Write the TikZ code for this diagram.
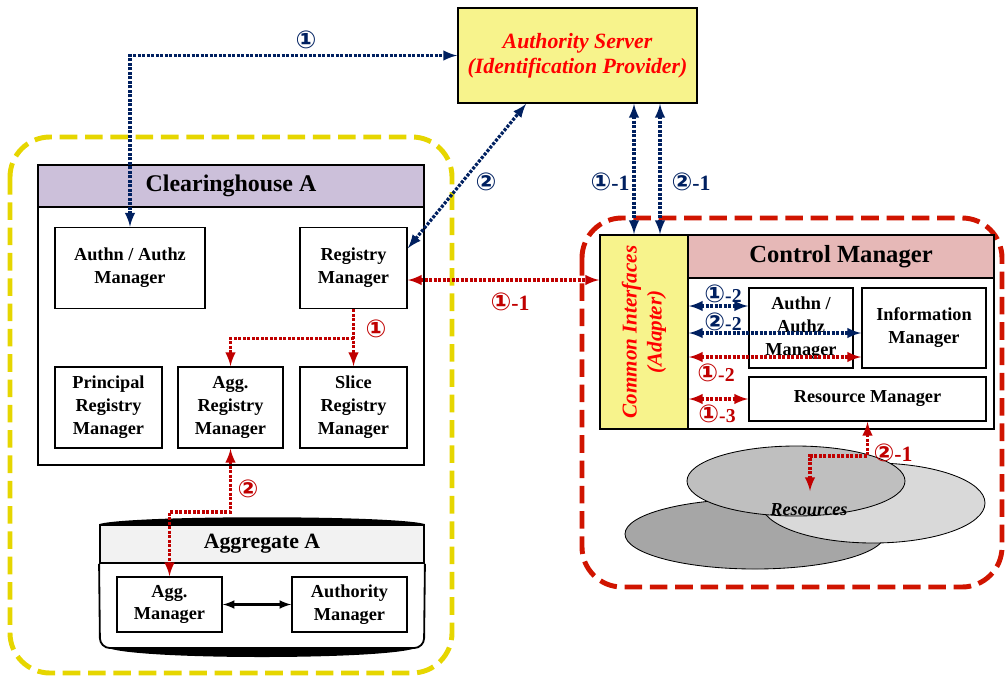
\documentclass[tikz,border=0pt]{standalone}
\usepackage{fontspec}
\setmainfont{Liberation Serif}
\newfontfamily\circfont{DejaVu Sans}
\usetikzlibrary{shapes, arrows, positioning, calc}

\definecolor{navyblue}{RGB}{0,32,96}
\definecolor{darkred}{RGB}{192,0,0}
\definecolor{zoneyellow}{RGB}{230,214,0}
\definecolor{zonered}{RGB}{208,20,0}
\definecolor{serveryellow}{RGB}{247,243,140}
\definecolor{chpurple}{RGB}{204,192,218}
\definecolor{cmpink}{RGB}{230,184,183}
\definecolor{agggray}{RGB}{242,242,242}

\newcommand{\cnum}[1]{{\circfont\fontsize{17.5}{18}\selectfont #1}}

\tikzset{
	box/.style={draw, line width=1.3pt, fill=white, align=center, inner sep=0pt,
		font=\fontsize{13}{16.3}\selectfont\bfseries},
	wh/.style 2 args={minimum width=#1*0.025cm, minimum height=#2*0.025cm},
	headtext/.style={font=\fontsize{17}{20}\selectfont\bfseries},
	zone/.style={line width=3.5pt, dash pattern=on 12.5pt off 5.5pt, rounded corners=1cm},
	blueline/.style={draw=navyblue, line width=2.3pt, dash pattern=on 2.1pt off 1.1pt},
	redline/.style={draw=darkred, line width=2.3pt, dash pattern=on 2.1pt off 1.1pt},
	bluelabel/.style={text=navyblue, font=\fontsize{15.5}{18}\selectfont\bfseries},
	redlabel/.style={text=darkred, font=\fontsize{15.5}{18}\selectfont\bfseries},
	smalllabel/.style={font=\fontsize{14}{15}\selectfont\bfseries}
}

\begin{document}
\begin{tikzpicture}[x=0.025cm, y=-0.025cm, >=latex]
	\useasboundingbox (0,0) rectangle (1006,679);

	% the two domains
	\draw[zone, draw=zoneyellow] (10,137) rectangle (452,673);
	\draw[zone, draw=zonered] (582,218) rectangle (1002,587);

	\node[box, fill=serveryellow, wh={239}{95}, text=red,
		font=\fontsize{15.5}{18}\selectfont\bfseries\itshape] (as) at (577.5,55.5) {Authority Server\\(Identification Provider)};

	% clearinghouse A
	\node[box, fill=chpurple, wh={386}{42}, headtext] (chhead) at (231,186) {Clearinghouse A};
	\node[box, wh={386}{258}] (chbody) at (231,336) {};
	\node[box, wh={150}{81}] (aa) at (130,268) {Authn / Authz\\Manager};
	\node[box, wh={107}{81}] (rm) at (353.5,268) {Registry\\Manager};
	\node[box, wh={107}{81}] (prm) at (108.5,407.5) {Principal\\Registry\\Manager};
	\node[box, wh={105}{81}] (arm) at (230.5,407.5) {Agg.\\Registry\\Manager};
	\node[box, wh={107}{81}] (srm) at (353.5,407.5) {Slice\\Registry\\Manager};

	% aggregate A
	\node[box, fill=agggray, wh={324}{38}, font=\fontsize{15.5}{18}\selectfont\bfseries] (aghead) at (262,544) {Aggregate A};
	\draw[line width=1.3pt, rounded corners=7pt] (aghead.south west) -- (100,648) -- (424,648) -- (aghead.south east);
	\fill (aghead.north west) .. controls (130,515) and (394,515) .. (aghead.north east) -- cycle;
	\fill (108,648) .. controls (140,660) and (384,660) .. (416,648) -- cycle;
	\node[box, wh={105}{55}] (am) at (169.5,604.5) {Agg.\\Manager};
	\node[box, wh={115}{55}] (aum) at (349.5,604.5) {Authority\\Manager};

	% control manager
	\node[box, fill=serveryellow, wh={88}{194}] (ci) at (644,332) {};
	\node[rotate=90, text=red, align=center,
		font=\fontsize{15}{17.8}\selectfont\bfseries\itshape] (citext) at (ci) {Common Interfaces\\(Adapter)};
	\node[box, fill=cmpink, wh={306}{43}, font=\fontsize{17.5}{20}\selectfont\bfseries] (cmhead) at (841,256.5) {Control Manager};
	\node[box, wh={306}{151}] (cmbody) at (841,353.5) {};
	\node[box, wh={104}{80}] (caa) at (801,328) {Authn /\\Authz\\Manager};
	\node[box, wh={124}{80}] (im) at (924,328) {Information\\Manager};
	\node[box, wh={237}{44}] (resm) at (867.5,399) {Resource Manager};

	% resources
	\draw[line width=0.6pt, fill=gray!70] (755,534) ellipse [x radius=130, y radius=35];
	\draw[line width=0.6pt, fill=gray!30] (873,503) ellipse [x radius=112, y radius=40];
	\draw[line width=0.6pt, fill=gray!50] (796,481) ellipse [x radius=109, y radius=35];
	\node[font=\fontsize{13}{15}\selectfont\bfseries\itshape] (restext) at (809,510) {Resources};

	% flows
	\draw[blueline, <->] (aa.north) |- (as.west);
	\draw[blueline, <->] (rm.20) -- ($(as.south west)+(69,0)$);
	\draw[blueline, <->] (634,0 |- as.south) -- (634,0 |- ci.north);
	\draw[blueline, <->] (660,0 |- as.south) -- (660,0 |- ci.north);
	\coordinate (r1) at ($(rm.east)+(0,12)$);
	\draw[redline, <->] (r1) -- (r1 -| ci.west);
	\draw[redline, ->] (rm) -- (srm);
	\draw[redline, ->] ($(rm.south)+(0,29)$) -| (arm);
	\draw[redline, <->] (arm.south) -- ++(0,63) -| (am);
	\draw[line width=1.8pt, <->] (am) -- (aum);
	\draw[blueline, <->] (ci.east |- 0,306) -- (caa.west |- 0,306);
	\draw[blueline, <->] (ci.east |- 0,333) -- (im.west |- 0,333);
	\draw[redline, <->] (ci.east |- 0,357) -- (im.west |- 0,357);
	\draw[redline, <->] (ci.east |- resm.west) -- (resm.west);
	\coordinate (rtip) at (810,491);
	\draw[redline, <->] (resm.south) -- ++(0,34) -| (rtip);

	% step labels
	\node[bluelabel] (l1) at (306,40) {\cnum{①}};
	\node[bluelabel] (l2) at (486,182) {\cnum{②}};
	\node[bluelabel] (l3) at (610,182) {\cnum{①}-1};
	\node[bluelabel] (l4) at (691,182) {\cnum{②}-1};
	\node[redlabel] (l5) at (510,302) {\cnum{①}-1};
	\node[redlabel] (l6) at (376,329) {\cnum{①}};
	\node[redlabel] (l7) at (248,489) {\cnum{②}};
	\node[bluelabel, smalllabel] (l8) at (723,294) {\cnum{①}-2};
	\node[bluelabel, smalllabel] (l9) at (723,322) {\cnum{②}-2};
	\node[redlabel, smalllabel] (l10) at (716,373) {\cnum{①}-2};
	\node[redlabel, smalllabel] (l11) at (717,414) {\cnum{①}-3};
	\node[redlabel] (l12) at (893,453) {\cnum{②}-1};
\end{tikzpicture}
\end{document}
